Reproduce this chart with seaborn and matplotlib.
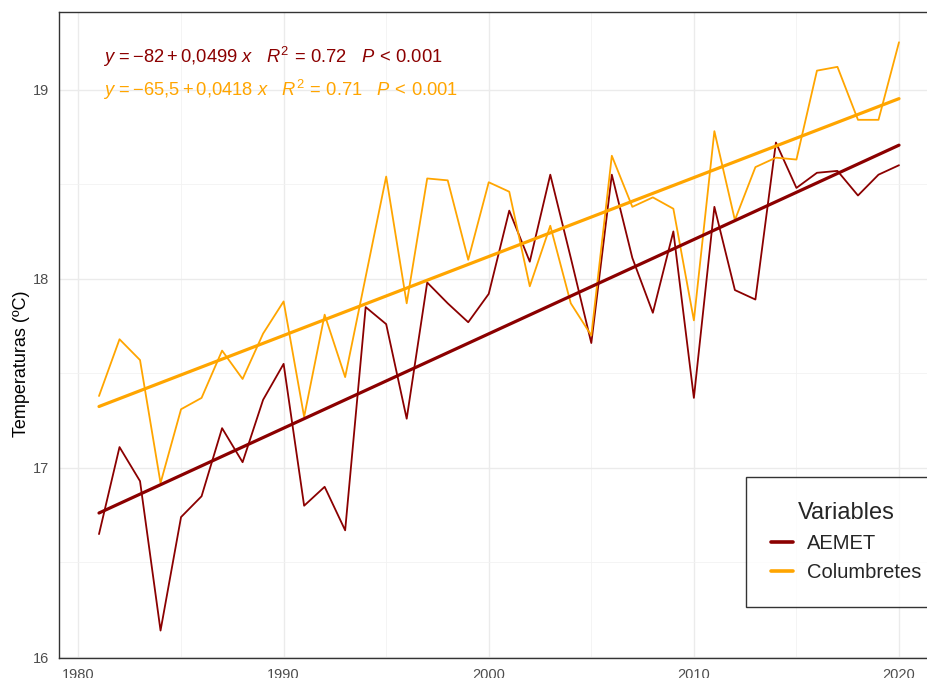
import numpy as np
import pandas as pd
import matplotlib
matplotlib.use('Agg')
import matplotlib.pyplot as plt
import seaborn as sns

# --- datos ---
years = list(range(1981, 2021))
aemet = [16.65, 17.11, 16.93, 16.14, 16.74, 16.85, 17.21, 17.03, 17.36, 17.55,
         16.80, 16.90, 16.67, 17.85, 17.76, 17.26, 17.98, 17.87, 17.77, 17.92,
         18.36, 18.09, 18.55, 18.11, 17.66, 18.55, 18.11, 17.82, 18.25, 17.37,
         18.38, 17.94, 17.89, 18.72, 18.48, 18.56, 18.57, 18.44, 18.55, 18.60]
columbretes = [17.38, 17.68, 17.57, 16.92, 17.31, 17.37, 17.62, 17.47, 17.71, 17.88,
               17.27, 17.81, 17.48, 18.01, 18.54, 17.87, 18.53, 18.52, 18.10, 18.51,
               18.46, 17.96, 18.28, 17.87, 17.70, 18.65, 18.38, 18.43, 18.37, 17.78,
               18.78, 18.31, 18.59, 18.64, 18.63, 19.10, 19.12, 18.84, 18.84, 19.25]
series = ['AEMET', 'Columbretes']
colores = {'AEMET': '#8B0000', 'Columbretes': '#FFA500'}
etiquetas = {
    'AEMET': r'$y\,=-82+0{,}0499\ x\quad R^2\,=\,0.72\quad P\,<\,0.001$',
    'Columbretes': r'$y\,=-65{,}5+0{,}0418\ x\quad R^2\,=\,0.71\quad P\,<\,0.001$',
}

df = pd.DataFrame({
    'Year': years * 2,
    'Temp': aemet + columbretes,
    'Variables': ['AEMET'] * len(years) + ['Columbretes'] * len(years),
})

# --- estilo ---
sns.set_style('white')
plt.rcParams['font.family'] = ['Liberation Sans', 'DejaVu Sans']
plt.rcParams['mathtext.fontset'] = 'custom'
plt.rcParams['mathtext.rm'] = 'Liberation Sans'
plt.rcParams['mathtext.it'] = 'Liberation Sans:italic'

fig = plt.figure(figsize=(9.28, 6.78), dpi=100)
# el panel sobresale por la derecha y por abajo, como en la imagen original recortada
ax = fig.add_axes([59 / 928, 20 / 678, 880 / 928, 646 / 678])

sns.lineplot(data=df, x='Year', y='Temp', hue='Variables', palette=colores,
             linewidth=1.3, ax=ax)
for s in series:
    sns.regplot(data=df[df['Variables'] == s], x='Year', y='Temp', scatter=False,
                ci=None, color=colores[s], line_kws={'linewidth': 2.3}, ax=ax)

ax.set_xlim(1979.05, 2021.95)
ax.set_ylim(15.995, 19.41)
ax.set_xticks([1980, 1990, 2000, 2010, 2020])
ax.set_xticks([1985, 1995, 2005, 2015], minor=True)
ax.set_yticks([16, 17, 18, 19])
ax.set_yticks([16.5, 17.5, 18.5], minor=True)
ax.grid(which='major', color='#EBEBEB', linewidth=1.0)
ax.grid(which='minor', color='#F2F2F2', linewidth=0.6)
ax.set_axisbelow(True)
for sp in ax.spines.values():
    sp.set_color('#333333')
    sp.set_linewidth(1.0)
ax.tick_params(axis='both', which='major', direction='out', length=3.5, width=0.8,
               color='#333333', labelcolor='#4D4D4D', labelsize=10.5)
ax.tick_params(axis='both', which='minor', length=0)
ax.set_xlabel('')
ax.set_ylabel('Temperaturas (ºC)', fontsize=13, color='black')
ax.yaxis.set_label_coords(-0.033, 0.455)

# --- ecuaciones ---
for s, ypos in zip(series, [0.930, 0.879]):
    ax.text(0.05, ypos, etiquetas[s], transform=ax.transAxes, color=colores[s],
            fontsize=13.2, va='center', ha='left')

# --- leyenda ---
handles, labels = ax.get_legend_handles_labels()
leg = ax.legend(handles[:2], labels[:2], title='Variables', loc='upper left',
                bbox_to_anchor=(746 / 928, 1 - 477 / 678), bbox_transform=fig.transFigure,
                fontsize=14.5, title_fontsize=17, frameon=True, fancybox=False,
                edgecolor='black', borderpad=1.25, handlelength=1.1, labelspacing=0.5,
                handletextpad=0.7, borderaxespad=0)
leg.get_frame().set_linewidth(1.0)
for h in leg.get_lines():
    h.set_linewidth(2.6)

fig.savefig('out.png', dpi=100)
